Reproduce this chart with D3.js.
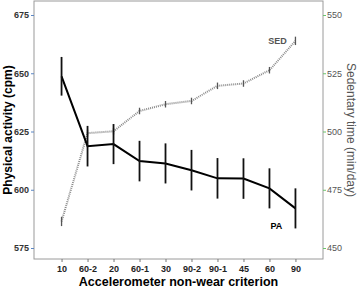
<!DOCTYPE html>
<html>
<head>
<meta charset="utf-8">
<script src="https://cdn.jsdelivr.net/npm/d3@7"></script>
<style>
  body { margin: 0; background: #fff; }
  text { font-family: 'Liberation Sans', Arial, sans-serif; }
</style>
</head>
<body>
<svg id="chart" width="358" height="290"></svg>
<script>
var categories = ['10', '60-2', '20', '60-1', '30', '90-2', '90-1', '45', '60', '90']
var paMean = [648.7, 618.7, 619.6, 612.3, 611.3, 608.4, 604.9, 604.8, 600.6, 592.0]
var paErr  = [8.3, 8.7, 8.6, 8.7, 8.6, 8.7, 8.7, 8.7, 8.6, 8.6]
var sedMean = [461.4, 499.3, 500.1, 508.8, 511.7, 513.1, 519.6, 520.6, 526.3, 538.9]
var sedErr  = [2.0, 1.5, 1.4, 1.4, 1.4, 1.4, 1.4, 1.4, 1.4, 1.8]
var leftTicks = [575, 600, 625, 650, 675]
var rightTicks = [450, 475, 500, 525, 550]

var svg = d3.select('#chart'),
  box = {left: 34, right: 323, top: 1, bottom: 259}

var x = d3.scalePoint()
  .domain(categories)
  .range([box.left, box.right])
  .padding(1.06)

var yPA = d3.scaleLinear().domain([575, 675]).range([248, 15])
var ySED = d3.scaleLinear().domain([450, 550]).range([248, 15])

var paData = categories.map(function(c, i) { return {c: c, m: paMean[i], e: paErr[i]} })
var sedData = categories.map(function(c, i) { return {c: c, m: sedMean[i], e: sedErr[i]} })

// frame
svg.append('rect')
  .attr('x', box.left).attr('y', box.top)
  .attr('width', box.right - box.left).attr('height', box.bottom - box.top)
  .attr('fill', 'none').attr('stroke', '#9a9a9a').attr('stroke-width', 1)

// left axis
var gl = svg.append('g').attr('transform', 'translate(' + box.left + ',0)')
gl.call(d3.axisLeft(yPA).tickValues(leftTicks).tickSize(3).tickPadding(2))
gl.select('.domain').remove()
gl.selectAll('line').attr('stroke', '#5b86c4')
gl.selectAll('text').attr('fill', '#333').attr('font-size', 9).attr('font-weight', 'bold')

// right axis
var gr = svg.append('g').attr('transform', 'translate(' + box.right + ',0)')
gr.call(d3.axisRight(ySED).tickValues(rightTicks).tickSize(3).tickPadding(1))
gr.select('.domain').remove()
gr.selectAll('line').attr('stroke', '#6cc46c')
gr.selectAll('text').attr('fill', '#555').attr('font-size', 9)

// bottom axis
var gb = svg.append('g').attr('transform', 'translate(0,' + box.bottom + ')')
gb.call(d3.axisBottom(x).tickSize(3).tickPadding(4))
gb.select('.domain').remove()
gb.selectAll('line').attr('stroke', '#777')
gb.selectAll('text').attr('fill', '#222').attr('font-size', 9).attr('font-weight', 'bold')

// SED series
svg.append('path')
  .datum(sedData)
  .attr('fill', 'none')
  .attr('stroke', '#8a8a8a')
  .attr('stroke-width', 2)
  .attr('stroke-dasharray', '1,1')
  .attr('d', d3.line().x(function(d) { return x(d.c) }).y(function(d) { return ySED(d.m) }))

svg.append('g').selectAll('line')
  .data(sedData)
  .enter().append('line')
  .attr('x1', function(d) { return x(d.c) })
  .attr('x2', function(d) { return x(d.c) })
  .attr('y1', function(d) { return ySED(d.m - d.e) })
  .attr('y2', function(d) { return ySED(d.m + d.e) })
  .attr('stroke', '#555')
  .attr('stroke-width', 1.3)

// PA series
svg.append('path')
  .datum(paData)
  .attr('fill', 'none')
  .attr('stroke', '#000')
  .attr('stroke-width', 2)
  .attr('d', d3.line().x(function(d) { return x(d.c) }).y(function(d) { return yPA(d.m) }))

svg.append('g').selectAll('line')
  .data(paData)
  .enter().append('line')
  .attr('x1', function(d) { return x(d.c) })
  .attr('x2', function(d) { return x(d.c) })
  .attr('y1', function(d) { return yPA(d.m - d.e) })
  .attr('y2', function(d) { return yPA(d.m + d.e) })
  .attr('stroke', '#111')
  .attr('stroke-width', 1.8)

// series labels
svg.append('text')
  .attr('x', x('90') - 18).attr('y', ySED(sedMean[9]) + 3)
  .attr('text-anchor', 'middle')
  .attr('font-size', 9).attr('font-weight', 'bold').attr('fill', '#555')
  .text('SED')

svg.append('text')
  .attr('x', x('60') + 7).attr('y', yPA(paMean[9]) + 21)
  .attr('text-anchor', 'middle')
  .attr('font-size', 9).attr('font-weight', 'bold').attr('fill', '#000')
  .text('PA')

// axis titles
svg.append('text')
  .attr('transform', 'translate(12,' + ((box.top + box.bottom) / 2) + ') rotate(-90)')
  .attr('text-anchor', 'middle')
  .attr('font-size', 12).attr('font-weight', 'bold').attr('fill', '#000')
  .text('Physical activity (cpm)')

svg.append('text')
  .attr('transform', 'translate(347,' + ((box.top + box.bottom) / 2) + ') rotate(90)')
  .attr('text-anchor', 'middle')
  .attr('font-size', 12).attr('fill', '#555')
  .text('Sedentary time (min/day)')

svg.append('text')
  .attr('x', (box.left + box.right) / 2).attr('y', 286)
  .attr('text-anchor', 'middle')
  .attr('font-size', 12.5).attr('font-weight', 'bold').attr('fill', '#000')
  .text('Accelerometer non-wear criterion')
</script>
</body>
</html>
